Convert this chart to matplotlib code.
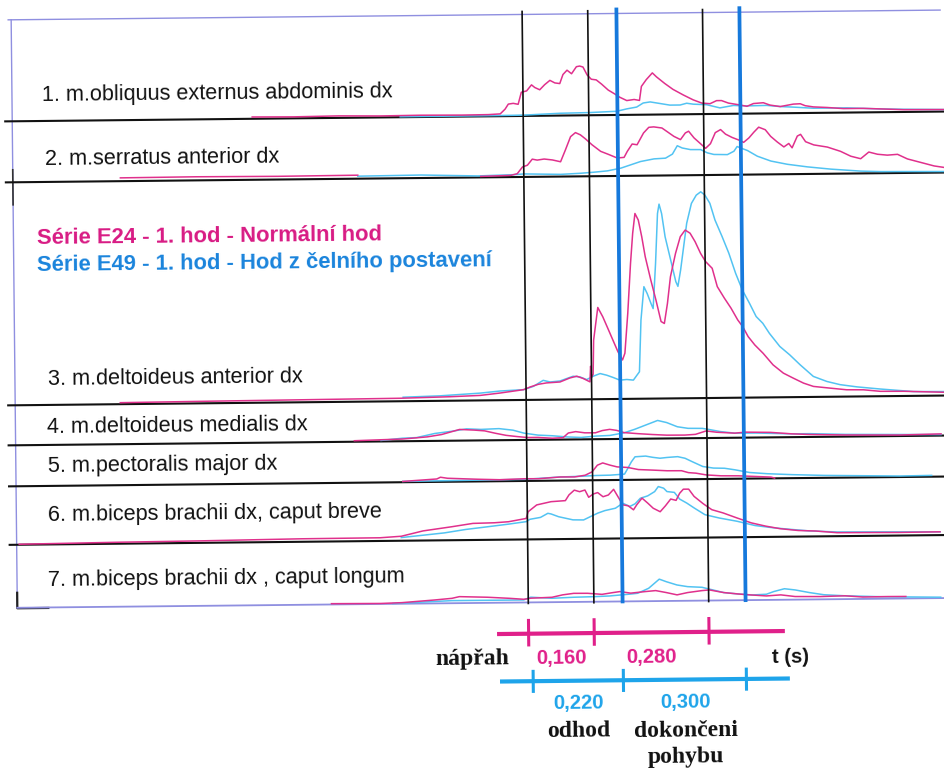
import numpy as np
import matplotlib.pyplot as plt
from matplotlib.transforms import Affine2D

W, H = 944, 769
PX_PER_S = 410.0   # horizontal scale of the record (px per second)
T0_PX = 526.0      # start of the wind-up phase on the sheet
TILT = 0.6         # the printed sheet sits slightly rotated (deg)

PINK = '#e0308c'
CYAN = '#52c3f2'
BLUE = '#1679dc'
FRAME = '#8f8fe0'

# phase durations (s)
e24_onset = 0.0
e24_phases = [0.160, 0.280]   # Normalni hod
e49_onset = 0.010
e49_phases = [0.220, 0.300]   # Hod z celniho postaveni

muscles = [
    '1. m.obliquus externus abdominis dx',
    '2. m.serratus anterior dx',
    '3. m.deltoideus anterior dx',
    '4. m.deltoideus medialis dx',
    '5. m.pectoralis major dx',
    '6. m.biceps brachii dx, caput breve',
    '7. m.biceps brachii dx , caput longum',
]
baselines = [116.5, 177.5, 400.5, 440.5, 481.5, 540.0, 603.0]
label_xy = [(44.7, 96.5), (47.3, 160.5), (48.0, 380.5), (46.5, 428.8),
            (47.1, 467.2), (46.6, 516.5), (45.9, 582.0)]

# EMG envelopes: time (ms from wind-up start), amplitude (px above baseline)
obl_t_e24 = [-661, -560, -450, -350, -250, -150, -85, -56, -44, -36, -24, -12, -4, 9, 21, 29, 41, 53, 66, 78,
             90, 98, 108, 119, 131, 139, 147, 157, 167, 179, 192, 208, 224, 236, 253, 271, 284, 289, 301, 316,
             326, 346, 366, 391, 415, 436, 456, 472, 484, 501, 525, 546, 562, 586, 602, 627, 659, 676, 688,
             708, 741, 781, 830, 871, 928, 1027]
obl_a_e24 = [1.8, 1.5, 2.0, 1.5, 1.8, 1.5, 1.7, 2.3, 7, 12, 12.7, 11.7, 23.7, 25, 31, 28.3, 26, 31, 35.3, 32.7,
             32, 41, 45.3, 41.7, 48.7, 49.3, 48.3, 40.3, 36, 35.3, 31, 25, 21, 17.7, 14.3, 15.3, 14.3, 28.3, 35, 41.7,
             37.7, 31, 25, 19.3, 14.3, 11, 10.3, 13.3, 13.3, 10.7, 9, 7.3, 10, 10.7, 8.3, 6.7, 9, 9.3, 7.3,
             6, 5.3, 4, 4, 3.3, 2.3, 2]
obl_t_e49 = [-300, -100, 0, 90, 163, 228, 253, 277, 293, 310, 334, 358, 383, 399, 415, 448, 480, 513, 546,
             594, 627, 659, 708, 789, 871, 928, 1027]
obl_a_e49 = [0.5, 0.6, 0.8, 2.3, 2.7, 3.7, 6, 7.7, 11.7, 12.7, 11, 9.3, 9.3, 11, 10, 9.3, 6, 8.3, 7.7,
             8, 6.7, 6, 4.7, 4.7, 3.3, 2.7, 2]

ser_t_e24 = [-984, -800, -600, -405, np.nan, -105, -32, -16, -3, 9, 21, 33, 50, 70, 90, 102, 115, 127, 139, 151,
             167, 188, 208, 228, 245, 253, 265, 277, 293, 306, 318, 338, 350, 367, 383, 395, 403, 416, 432, 444,
             456, 468, 481, 493, 509, 525, 537, 550, 562, 574, 590, 603, 619, 635, 647, 655, 668, 676, 688,
             708, 741, 773, 798, 822, 842, 863, 887, 912, 936, 969, 1001, 1027]
ser_a_e24 = [3.3, 3.6, 3.2, 3.5, np.nan, 1.0, 1.7, 3.3, 10, 11.7, 17.7, 16.7, 17.7, 16.7, 14.8, 26.5, 39.8, 43.8, 41.5, 37.5,
             31.5, 24.8, 21.5, 18, 18.5, 24.5, 31.8, 31, 42.7, 48.3, 48.7, 47.5, 44, 39, 35.7, 42.3, 44, 37.3, 31.3, 26.7,
             31.3, 42.3, 45.3, 40.7, 37.3, 34.7, 32.3, 36.7, 42.3, 47.3, 44.7, 38, 32.3, 27.3, 30.7, 26.3, 38, 39.7, 32.3,
             29, 26.7, 22.3, 17.3, 14.7, 21.3, 19, 18, 18.7, 14, 10.3, 6.7, 5]
ser_t_e49 = [-405, -250, -112, -24, 1, 90, 139, 171, 204, 237, 261, 285, 318, 346, 363, 375, 387, 407, 432,
             448, 464, 497, 513, 521, 529, 546, 570, 603, 643, 692, 749, 822, 871, 952, 1027]
ser_a_e49 = [2.5, 3.0, 1.5, 2.4, 3, 2.2, 3.1, 4, 5.2, 7.8, 11, 14.2, 16.7, 17.3, 21.3, 29.6, 27.3, 25.6, 25.5,
             22.2, 20.5, 20.2, 23.5, 28.2, 26.8, 24.1, 18.3, 13.3, 9.9, 7.1, 4.6, 2.3, 1.6, 1.3, 1.0]

dla_t_e24 = [-990, -796, -551, -307, -185, -112, -63, -6, 10, 30, 50, 83, 107, 124, 140, 156, 158, 160, 164,
             166, 177, 189, 201, 213, 225, 236, 242, 250, 258, 264, 270, 278, 286, 294, 307, 319, 331, 339, 347,
             355, 368, 380, 392, 404, 416, 429, 441, 457, 469, 486, 502, 518, 530, 543, 559, 579, 603, 628, 652,
             677, 701, 742, 782, 823, 864, 921, 1020]
dla_a_e24 = [1.5, 2, 2.5, 3, 4, 5, 7.2, 10.3, 12.9, 15.5, 16.8, 17.6, 21.5, 23.2, 20.8, 17.4, 33, 22, 25,
             59, 91.7, 82.3, 70.7, 59, 47.3, 39, 45.7, 85.6, 135.6, 165.6, 185.3, 178.7, 162, 142, 118.6, 98.6, 77, 75, 95,
             121.7, 145, 161.6, 168.2, 165, 156.5, 144.8, 136.5, 129.7, 111.3, 99.7, 89.6, 77.8, 71, 61, 52.6, 44.2, 32.5, 24.1, 19,
             13.9, 10.5, 8.6, 6.8, 6.6, 4.9, 4.7, 3.3]
dla_t_e49 = [-300, -210, -112, -63, -6, 18, 42, 59, 83, 115, 132, 148, 164, 181, 197, 213, 229, 246, 262,
             277, 282, 290, 298, 307, 312, 319, 325, 329, 335, 343, 356, 368, 373, 380, 388, 396, 408, 420, 431,
             441, 453, 465, 482, 498, 514, 530, 547, 563, 579, 595, 620, 644, 669, 701, 734, 766, 807, 864, 945, 1020]
dla_a_e49 = [4, 5, 7.3, 9.2, 10.3, 13.5, 19.4, 17.7, 18.6, 23.2, 22.4, 19.7, 23, 25.6, 23.9, 21.5, 18.8, 19.4, 18.7,
             27, 78.6, 112, 105, 95, 90, 135, 185, 194.4, 185, 161.7, 138.4, 116.7, 112, 128.3, 151.7, 175, 194.8, 203, 206.3,
             203, 194.7, 178, 161.3, 144.6, 124.5, 107.7, 94.4, 81, 74.2, 64, 50.8, 42.3, 32.3, 20.5, 15.3, 12, 9.6, 7.2, 4.3, 4]

dlm_t_e24 = [-420, -355, -303, -242, -207, -163, -128, -102, -76, -50, -24, 2, 28, 63, 89, 102, 120, 142, 168,
             185, 203, 220, 238, 272, 307, 342, 386, 412, 438, 464, 508, 534, 595, 647, 691, 778, 909, 1011]
dlm_a_e24 = [1.0, 1.7, 2.2, 4.1, 6.3, 11.2, 10.4, 9.5, 7.0, 4.8, 3.5, 2.4, 2.4, 1.4, 1.9, 6.5, 7.8, 6.5, 6.4,
             8.6, 9.7, 8.6, 6.3, 5.1, 4.1, 3.3, 3.2, 3.8, 7.1, 5.7, 4.6, 5.5, 5.0, 3.3, 2.5, 1.6, 1.0, 1.7]
dlm_t_e49 = [-355, -303, -268, -224, -181, -146, -111, -67, -33, -6, 28, 63, 98, 133, 168, 203, 238, 264, 290,
             320, 342, 368, 394, 429, 447, 473, 508, 560, 647, 691, 778, 1011]
dlm_a_e49 = [1.0, 3.0, 3.5, 7.4, 9.5, 11.7, 11.0, 11.6, 9.9, 6.8, 4.7, 3.9, 2.6, 1.9, 3.1, 3.6, 6.1, 9.5, 13.5,
             18.1, 15.9, 11.6, 9.9, 9.7, 8.4, 6.3, 4.6, 4.5, 3.3, 3.3, 2.2, 1.0]

pec_t_e24 = [-303, -220, -211, -194, -120, -67, -6, 28, 81, 116, 142, 159, 172, 185, 203, 220, 246, 272, 307,
             342, 377, 394, 412, 438, 473, 516, 560, 595, 604]
pec_a_e24 = [0.8, 2.9, 4.6, 3.5, 2.2, 1.5, 2.2, 2.1, 3.6, 3.5, 5.1, 8.4, 15.0, 17.2, 14.9, 13.1, 12.4, 10.2, 9.5,
             8.7, 8.6, 6.6, 6.0, 4.1, 3.1, 2.9, 2.0, 1.3, 0.3]
pec_t_e49 = [-303, -6, 81, 133, 168, 203, 238, 246, 255, 264, 290, 307, 325, 342, 368, 386, 403, 429, 455,
             482, 508, 543, 586, 647, 726, 778, 909, 987]
pec_a_e49 = [0.8, 1.6, 3.6, 4.1, 4.7, 4.9, 5.8, 11.4, 18.0, 23.0, 23.6, 22.3, 21.3, 22.0, 22.7, 21.0, 17.6, 12.6, 10.9,
             10.6, 8.9, 6.1, 4.7, 3.5, 2.4, 2.0, 1.0, 1.3]

bbr_t_e24 = [-1240, -990, -796, -551, -360, -308, -255, -186, -133, -81, -46, -3, 2, 23, 58, 93, 102, 115, 128,
             141, 150, 161, 172, 185, 198, 211, 219, 233, 246, 259, 267, 280, 294, 307, 324, 337, 350, 363, 372,
             381, 394, 407, 429, 450, 477, 511, 546, 581, 616, 660, 703, 755, 843, 904, 1006]
bbr_a_e24 = [0.5, 1.5, 2.0, 3.0, 3.2, 4.5, 9.6, 13.4, 16.6, 17.0, 17.9, 21.0, 27.7, 34.4, 37.5, 38.4, 44.1, 48.8, 47.2,
             48.8, 41.5, 44.7, 46.1, 41.9, 43.6, 49.2, 43.5, 33.6, 32.6, 28.5, 33.5, 40.1, 35.0, 29.9, 26.3, 32.2, 38.9, 37.5, 44.6,
             48.6, 48.6, 41.3, 33.9, 27.8, 24.5, 19.3, 14.2, 10.8, 8.1, 6.1, 5.4, 3.5, 3.3, 3.1, 3.3]
bbr_t_e49 = [-308, -255, -203, -151, -99, -46, -3, 6, 32, 50, 58, 76, 111, 137, 154, 172, 189, 215, 233,
             250, 263, 276, 294, 311, 320, 333, 341, 359, 372, 389, 407, 433, 468, 511, 555, 599, 642, 686, 755,
             843, 1006]
bbr_a_e49 = [3.2, 5.3, 7.4, 10.6, 13.0, 15.5, 17.8, 20.1, 21.9, 25.9, 25.2, 22.4, 19.1, 18.9, 22.2, 25.6, 28.0, 30.3, 35.2,
             31.9, 34.5, 40.0, 42.3, 46.5, 51.5, 49.8, 46.4, 45.5, 38.7, 34.7, 29.7, 22.9, 19.4, 16.0, 11.5, 9.1, 7.3, 5.6, 4.2,
             3.9, 3.3]

bbl_t_e24 = [-480, -360, -308, -229, -186, -168, -99, -46, -11, 6, 58, 84, 111, 145, 180, 206, 224, 250, 285,
             311, 337, 363, 389, 424, 442, 477, 511, 538, 581, 616, 651, 712, 773, 816, 877, 921]
bbl_a_e24 = [0.8, 0.5, 1.1, 3.4, 4.9, 6.5, 5.6, 4.3, 3.2, 4.2, 4.9, 7.2, 8.6, 8.5, 7.3, 8.9, 9.9, 8.2, 9.6,
             10.5, 8.4, 6.0, 8.2, 10.0, 10.6, 7.8, 6.3, 5.3, 4.0, 4.9, 3.1, 2.8, 3.3, 1.9, 2.1, 2.0]
bbl_t_e49 = [-330, -186, -11, 6, 58, 111, 163, 198, 250, 267, 294, 320, 337, 363, 389, 424, 450, 477, 511,
             546, 581, 599, 625, 651, 686, 721, 773, 860, 1006]
bbl_a_e49 = [0.3, 2.6, 2.5, 5.2, 3.9, 4.7, 5.1, 5.6, 7.3, 8.0, 12.9, 21.9, 19.3, 15.9, 14.1, 13.3, 10.6, 7.8, 6.3,
             5.1, 5.7, 8.3, 11.0, 9.7, 6.9, 4.6, 3.3, 2.0, 0.9]

traces = [
    (obl_t_e24, obl_a_e24, obl_t_e49, obl_a_e49),
    (ser_t_e24, ser_a_e24, ser_t_e49, ser_a_e49),
    (dla_t_e24, dla_a_e24, dla_t_e49, dla_a_e49),
    (dlm_t_e24, dlm_a_e24, dlm_t_e49, dlm_a_e49),
    (pec_t_e24, pec_a_e24, pec_t_e49, pec_a_e49),
    (bbr_t_e24, bbr_a_e24, bbr_t_e49, bbr_a_e49),
    (bbl_t_e24, bbl_a_e24, bbl_t_e49, bbl_a_e49),
]


def sx(px):
    # sheet pixel column -> time axis
    return (px - T0_PX) / PX_PER_S


fig = plt.figure(figsize=(W / 100, H / 100), dpi=100)
ax = fig.add_axes([0, 0, 1, 1])
ax.set_xlim(sx(0), sx(W))
ax.set_ylim(H, 0)
ax.axis('off')
tr = ax.transData + Affine2D().rotate_deg_around(W / 2, H - 384, TILT)

txt = dict(transform=tr, rotation=TILT, rotation_mode='anchor', ha='left', va='baseline')

# frame
ax.plot([sx(12), sx(944)], [15, 15], color=FRAME, lw=1.0, transform=tr)
ax.plot([sx(15), sx(15)], [15, 603], color=FRAME, lw=1.0, transform=tr)
ax.plot([sx(15), sx(15)], [165, 200], color='#333333', lw=1.2, transform=tr)
ax.plot([sx(15), sx(15), sx(46)], [588, 603.5, 603.5], color='#222222', lw=1.6, transform=tr)

# channels
for i, (name, base, (tp, ap, tc, ac)) in enumerate(zip(muscles, baselines, traces)):
    if i < 6:
        ax.plot([sx(8), sx(950)], [base, base], color='#111111', lw=1.5, transform=tr)
    else:
        ax.plot([sx(15), sx(950)], [base, base], color=FRAME, lw=1.3, transform=tr)
    ax.plot(np.array(tc) / 1000, base - np.array(ac), color=CYAN, lw=1.1, transform=tr)
    ax.plot(np.array(tp) / 1000, base - np.array(ap), color=PINK, lw=1.1, transform=tr)
    lx, ly = label_xy[i]
    ax.text(sx(lx), ly, name, fontsize=15.6, family='Liberation Sans', color='#111111', **txt)

# phase boundaries
e24_marks = e24_onset + np.concatenate([[0], np.cumsum(e24_phases)])
e49_marks = e49_onset + np.concatenate([[0], np.cumsum(e49_phases)])
for t in e24_marks:
    ax.plot([t, t], [12, 604], color='#111111', lw=1.2, transform=tr)
for t in e49_marks[1:]:
    ax.plot([t, t], [11, 603], color=BLUE, lw=2.7, transform=tr)

# series legend
ax.text(sx(38.2), 239.5, 'Série E24 - 1. hod - Normální hod', fontsize=15.8,
        family='Liberation Sans', weight='bold', color='#d81b84', **txt)
ax.text(sx(38.2), 266.0, 'Série E49 - 1. hod - Hod z čelního postavení', fontsize=15.8,
        family='Liberation Sans', weight='bold', color='#1a84dc', **txt)

# phase time lines
ax.plot([-0.077, 0.625], [634.3, 634.3], color='#e0208a', lw=3.0, transform=tr, solid_capstyle='butt')
for t in e24_marks:
    ax.plot([t, t], [621.0, 645.5], color='#e0208a', lw=2.2, transform=tr)
ax.plot([-0.071, 0.636], [681.8, 681.8], color='#1ea4ea', lw=3.0, transform=tr, solid_capstyle='butt')
for t in e49_marks:
    ax.plot([t, t], [672, 692], color='#1ea4ea', lw=2.2, transform=tr)

num = dict(transform=tr, rotation=TILT, rotation_mode='anchor', va='baseline',
           fontsize=14.6, family='Liberation Sans', weight='bold')
for a, b, d in zip(e24_marks[:-1], e24_marks[1:], e24_phases):
    ax.text((a + b) / 2, 664.5, f'{d:.3f}'.replace('.', ','), color='#e0208a', ha='center', **num)
for a, b, d in zip(e49_marks[:-1], e49_marks[1:], e49_phases):
    ax.text((a + b) / 2, 709.5, f'{d:.3f}'.replace('.', ','), color='#1ea4ea', ha='center', **num)
ax.text(sx(769), 666.4, 't (s)', color='#111111', ha='left', **num)

word = dict(transform=tr, rotation=TILT, rotation_mode='anchor', va='baseline',
            fontsize=17.0, family='Liberation Serif', weight='bold', color='#111111')
ax.text(sx(432), 664.6, 'nápřah', ha='left', **word)
ax.text((e49_marks[0] + e49_marks[1]) / 2, 738.0, 'odhod', ha='center', **word)
ax.text((e49_marks[1] + e49_marks[2]) / 2, 739.0, 'dokončeni', ha='center', **word)
ax.text((e49_marks[1] + e49_marks[2]) / 2, 765.0, 'pohybu', ha='center', **word)

ax.set_xlim(sx(0), sx(W))
ax.set_ylim(H, 0)
fig.savefig('out.png', dpi=100, facecolor='white')
